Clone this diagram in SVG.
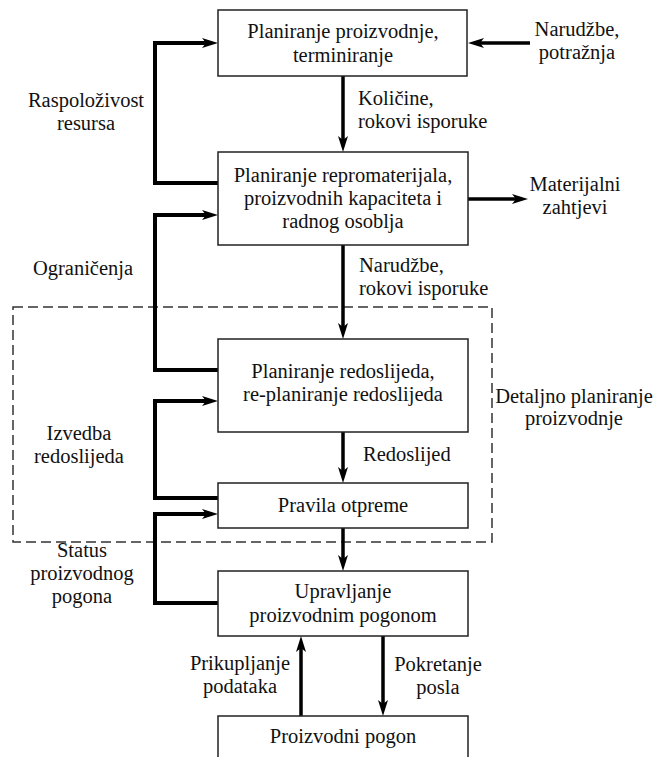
<svg xmlns="http://www.w3.org/2000/svg" width="658" height="757" viewBox="0 0 658 757">
<style>
.box{fill:#fff;stroke:#222;stroke-width:1.5}
.t{font-family:"Liberation Serif","Times New Roman",serif;font-size:20.5px;fill:#111}
.c{text-anchor:middle}
.w{fill:none;stroke:#000;stroke-width:4;stroke-linejoin:miter}
.a{fill:none;stroke:#000;stroke-width:3.5}
.dash{fill:none;stroke:#333;stroke-width:1.5;stroke-dasharray:10,5}
</style>
<defs>
<marker id="ah" markerUnits="userSpaceOnUse" markerWidth="16" markerHeight="10" refX="4" refY="5" orient="auto">
<path d="M0,0 L16,5 L0,10 L4,5 z" fill="#000"/>
</marker>
</defs>
<g id="frame">
<rect class="dash" x="13" y="307" width="479" height="235"/>
<text class="t c" x="574" y="403">Detaljno planiranje</text>
<text class="t c" x="574" y="425">proizvodnje</text>
</g>
<g id="connectors">
<line class="a" x1="530" y1="43" x2="480" y2="43" marker-end="url(#ah)"/>
<line class="a" x1="343" y1="76" x2="343" y2="140" marker-end="url(#ah)"/>
<line class="a" x1="468" y1="199" x2="516" y2="199" marker-end="url(#ah)"/>
<polyline class="w" points="218,183 155,183 155,43 206,43" marker-end="url(#ah)"/>
<line class="a" x1="343" y1="245" x2="343" y2="327" marker-end="url(#ah)"/>
<polyline class="w" points="218,370 155,370 155,215 206,215" marker-end="url(#ah)"/>
<line class="a" x1="343" y1="432" x2="343" y2="471" marker-end="url(#ah)"/>
<polyline class="w" points="218,498 155,498 155,401 206,401" marker-end="url(#ah)"/>
<line class="a" x1="343" y1="528" x2="343" y2="559" marker-end="url(#ah)"/>
<polyline class="w" points="218,603 155,603 155,514 206,514" marker-end="url(#ah)"/>
<line class="a" x1="301" y1="716" x2="301" y2="648" marker-end="url(#ah)"/>
<line class="a" x1="383" y1="636" x2="383" y2="704" marker-end="url(#ah)"/>
</g>
<g id="labels">
<text class="t c" x="577" y="36">Narudžbe,</text>
<text class="t c" x="577" y="59">potražnja</text>
<text class="t" x="358" y="105">Količine,</text>
<text class="t" x="358" y="128">rokovi isporuke</text>
<text class="t c" x="575" y="191">Materijalni</text>
<text class="t c" x="575" y="214">zahtjevi</text>
<text class="t c" x="86" y="107">Raspoloživost</text>
<text class="t c" x="86" y="130">resursa</text>
<text class="t c" x="83" y="275">Ograničenja</text>
<text class="t" x="359" y="272">Narudžbe,</text>
<text class="t" x="359" y="295">rokovi isporuke</text>
<text class="t c" x="79" y="440">Izvedba</text>
<text class="t c" x="79" y="463">redoslijeda</text>
<text class="t" x="363" y="461">Redoslijed</text>
<text class="t c" x="82" y="557">Status</text>
<text class="t c" x="82" y="580">proizvodnog</text>
<text class="t c" x="82" y="603">pogona</text>
<text class="t c" x="240" y="670">Prikupljanje</text>
<text class="t c" x="240" y="693">podataka</text>
<text class="t c" x="438" y="671">Pokretanje</text>
<text class="t c" x="438" y="694">posla</text>
</g>
<g id="n1">
<rect class="box" x="218" y="10" width="249" height="66"/>
<text class="t c" x="343" y="38">Planiranje proizvodnje,</text>
<text class="t c" x="343" y="62">terminiranje</text>
</g>
<g id="n2">
<rect class="box" x="218" y="152" width="250" height="93"/>
<text class="t c" x="343" y="182">Planiranje repromaterijala,</text>
<text class="t c" x="343" y="205">proizvodnih kapaciteta i</text>
<text class="t c" x="343" y="228">radnog osoblja</text>
</g>
<g id="n3">
<rect class="box" x="218" y="339" width="250" height="93"/>
<text class="t c" x="343" y="378">Planiranje redoslijeda,</text>
<text class="t c" x="343" y="401">re-planiranje redoslijeda</text>
</g>
<g id="n4">
<rect class="box" x="218" y="483" width="250" height="45"/>
<text class="t c" x="343" y="512">Pravila otpreme</text>
</g>
<g id="n5">
<rect class="box" x="218" y="571" width="250" height="65"/>
<text class="t c" x="343" y="598">Upravljanje</text>
<text class="t c" x="343" y="622">proizvodnim pogonom</text>
</g>
<g id="n6">
<rect class="box" x="218" y="716" width="250" height="60"/>
<text class="t c" x="343" y="743">Proizvodni pogon</text>
</g>
</svg>
